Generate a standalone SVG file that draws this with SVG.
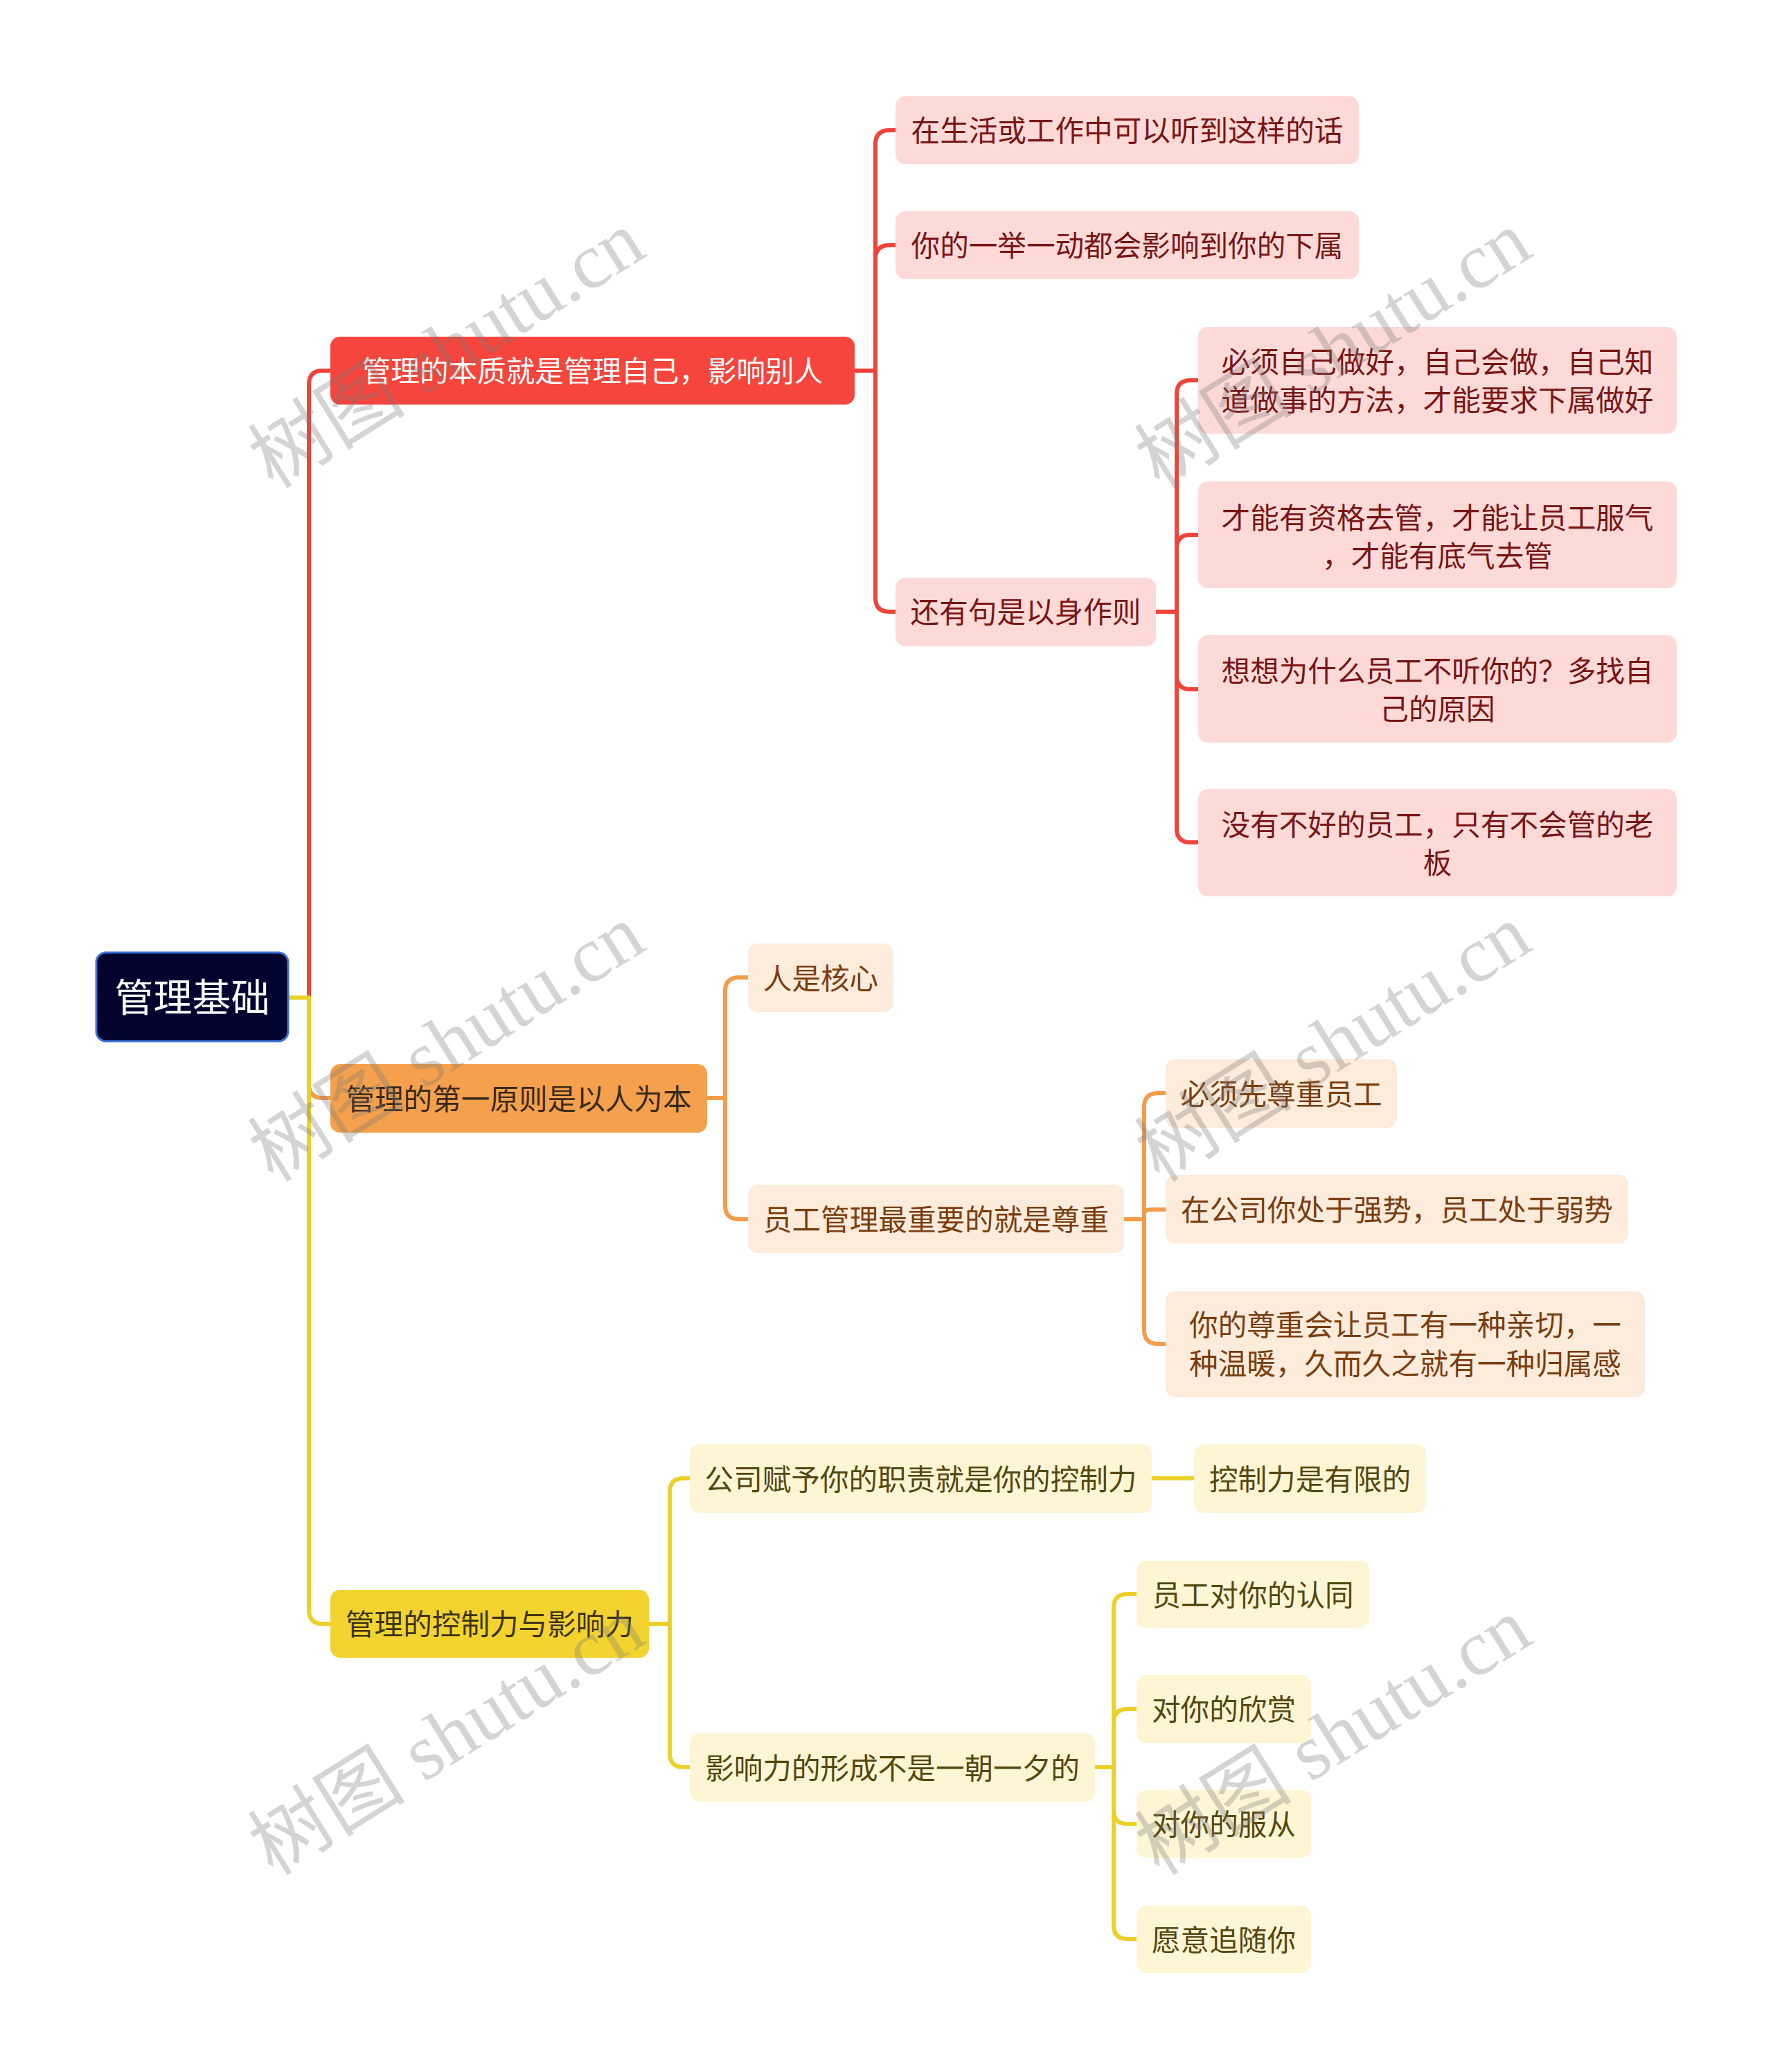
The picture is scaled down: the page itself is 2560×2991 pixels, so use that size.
<svg xmlns="http://www.w3.org/2000/svg" width="2560" height="2991" viewBox="0 0 2560 2991">
<style>
text{font-family:"Noto Sans CJK SC","Noto Sans",sans-serif;text-anchor:middle;dominant-baseline:central}
.c{fill:none;stroke-width:6;stroke-linecap:round;stroke-linejoin:round}
.cr{stroke:#f0443a}.co{stroke:#f29d4b}.cy{stroke:#ecd02a}
.nr{fill:#f5453c}.no{fill:#f4a04c}.ny{fill:#f2d32f}
.sr{fill:#fddad8}.so{fill:#fdebdb}.sy{fill:#fdf5d4}
.tr{fill:#7a1414;font-size:41.6px}.to{fill:#7a3d0e;font-size:41.6px}.ty{fill:#54470f;font-size:41.6px}
.tw{fill:#ffffff;font-size:41.6px}.tdo{fill:#3b2a1a;font-size:41.6px}.tdy{fill:#3d3312;font-size:41.6px}
.wm{font-family:"Liberation Serif","Noto Sans CJK SC",serif;font-size:114px;fill:#787878;fill-opacity:0.32}
</style>
<rect width="2560" height="2991" fill="#ffffff"/>
<g id="connectors">
<path class="c cr" d="M446,1440 V555 Q446,535 466,535 H477"/>
<path class="c co" d="M446,1440 V1565 Q446,1585 466,1585 H477"/>
<path class="c cy" d="M446,1440 V2324 Q446,2344 466,2344 H477 M416,1440 H446"/>
<path class="c cr" d="M1234,535 H1264 V208 Q1264,188 1284,188 H1293 M1264,374 Q1264,354 1284,354 H1293 M1264,535 V863 Q1264,883 1284,883 H1293"/>
<path class="c cr" d="M1669,883 H1699 V569 Q1699,549 1719,549 H1730 M1699,792 Q1699,772 1719,772 H1730 M1699,883 V1196 Q1699,1216 1719,1216 H1730 M1699,975 Q1699,995 1719,995 H1730"/>
<path class="c co" d="M1021,1585 H1047 V1431 Q1047,1411 1067,1411 H1080 M1047,1585 V1740 Q1047,1760 1067,1760 H1080"/>
<path class="c co" d="M1623,1760 H1652 V1598 Q1652,1578 1672,1578 H1683 M1652,1753 Q1652,1746 1662,1746 H1683 M1652,1760 V1920 Q1652,1940 1672,1940 H1683"/>
<path class="c cy" d="M937,2344 H967 V2154 Q967,2134 987,2134 H996 M967,2344 V2531 Q967,2551 987,2551 H996"/>
<path class="c cy" d="M1663,2134 H1724"/>
<path class="c cy" d="M1581,2551 H1608 V2321 Q1608,2301 1628,2301 H1641 M1608,2487 Q1608,2467 1628,2467 H1641 M1608,2551 V2779 Q1608,2799 1628,2799 H1641 M1608,2613 Q1608,2633 1628,2633 H1641"/>
</g>
<g id="root"><rect x="139" y="1375" width="277" height="128" rx="14" fill="#02032f" stroke="#3a74d6" stroke-width="3"/><text x="277.5" y="1435" fill="#ffffff" font-size="56">管理基础</text></g>
<g id="n1"><rect class="nr" x="477" y="486" width="757" height="98" rx="14"/><text class="tw" x="855.5" y="533">管理的本质就是管理自己，影响别人</text></g>
<g id="n1a"><rect class="sr" x="1293" y="139" width="669" height="98" rx="14"/><text class="tr" x="1627.5" y="186">在生活或工作中可以听到这样的话</text></g>
<g id="n1b"><rect class="sr" x="1293" y="305" width="669" height="98" rx="14"/><text class="tr" x="1627.5" y="352">你的一举一动都会影响到你的下属</text></g>
<g id="n1c"><rect class="sr" x="1293" y="834" width="376" height="99" rx="14"/><text class="tr" x="1481" y="881">还有句是以身作则</text></g>
<g id="n1c1"><rect class="sr" x="1730" y="472" width="691" height="154" rx="14"/><text class="tr" x="2075.5" y="520">必须自己做好，自己会做，自己知</text><text class="tr" x="2075.5" y="575">道做事的方法，才能要求下属做好</text></g>
<g id="n1c2"><rect class="sr" x="1730" y="695" width="691" height="154" rx="14"/><text class="tr" x="2075.5" y="745">才能有资格去管，才能让员工服气</text><text class="tr" x="2075.5" y="800">，才能有底气去管</text></g>
<g id="n1c3"><rect class="sr" x="1730" y="917" width="691" height="155" rx="14"/><text class="tr" x="2075.5" y="966">想想为什么员工不听你的？多找自</text><text class="tr" x="2075.5" y="1021">己的原因</text></g>
<g id="n1c4"><rect class="sr" x="1730" y="1139" width="691" height="155" rx="14"/><text class="tr" x="2075.5" y="1188">没有不好的员工，只有不会管的老</text><text class="tr" x="2075.5" y="1243">板</text></g>
<g id="n2"><rect class="no" x="477" y="1536" width="544" height="99" rx="14"/><text class="tdo" x="749" y="1583.5">管理的第一原则是以人为本</text></g>
<g id="n2a"><rect class="so" x="1080" y="1362" width="210" height="99" rx="14"/><text class="to" x="1185" y="1409.5">人是核心</text></g>
<g id="n2b"><rect class="so" x="1080" y="1710" width="543" height="99" rx="14"/><text class="to" x="1351.5" y="1757.5">员工管理最重要的就是尊重</text></g>
<g id="n2b1"><rect class="so" x="1683" y="1529" width="334" height="99" rx="14"/><text class="to" x="1850" y="1576.5">必须先尊重员工</text></g>
<g id="n2b2"><rect class="so" x="1683" y="1696" width="668" height="99" rx="14"/><text class="to" x="2017" y="1743.5">在公司你处于强势，员工处于弱势</text></g>
<g id="n2b3"><rect class="so" x="1683" y="1864" width="692" height="153" rx="14"/><text class="to" x="2029" y="1910">你的尊重会让员工有一种亲切，一</text><text class="to" x="2029" y="1966">种温暖，久而久之就有一种归属感</text></g>
<g id="n3"><rect class="ny" x="477" y="2295" width="460" height="98" rx="14"/><text class="tdy" x="707" y="2342">管理的控制力与影响力</text></g>
<g id="n3a"><rect class="sy" x="996" y="2085" width="667" height="99" rx="14"/><text class="ty" x="1329.5" y="2132.5">公司赋予你的职责就是你的控制力</text></g>
<g id="n3a1"><rect class="sy" x="1724" y="2085" width="335" height="99" rx="14"/><text class="ty" x="1891.5" y="2132.5">控制力是有限的</text></g>
<g id="n3b"><rect class="sy" x="996" y="2502" width="585" height="99" rx="14"/><text class="ty" x="1288.5" y="2549.5">影响力的形成不是一朝一夕的</text></g>
<g id="n3b1"><rect class="sy" x="1641" y="2253" width="336" height="97" rx="14"/><text class="ty" x="1809" y="2299.5">员工对你的认同</text></g>
<g id="n3b2"><rect class="sy" x="1641" y="2418" width="252" height="98" rx="14"/><text class="ty" x="1767" y="2465">对你的欣赏</text></g>
<g id="n3b3"><rect class="sy" x="1641" y="2584" width="252" height="98" rx="14"/><text class="ty" x="1767" y="2631">对你的服从</text></g>
<g id="n3b4"><rect class="sy" x="1641" y="2751" width="252" height="97" rx="14"/><text class="ty" x="1767" y="2797.5">愿意追随你</text></g>
<g id="watermarks">
<text class="wm" transform="translate(645,505) rotate(-32)">树图 shutu.cn</text>
<text class="wm" transform="translate(1925,505) rotate(-32)">树图 shutu.cn</text>
<text class="wm" transform="translate(645,1506) rotate(-32)">树图 shutu.cn</text>
<text class="wm" transform="translate(1925,1506) rotate(-32)">树图 shutu.cn</text>
<text class="wm" transform="translate(645,2507) rotate(-32)">树图 shutu.cn</text>
<text class="wm" transform="translate(1925,2507) rotate(-32)">树图 shutu.cn</text>
</g>
</svg>
